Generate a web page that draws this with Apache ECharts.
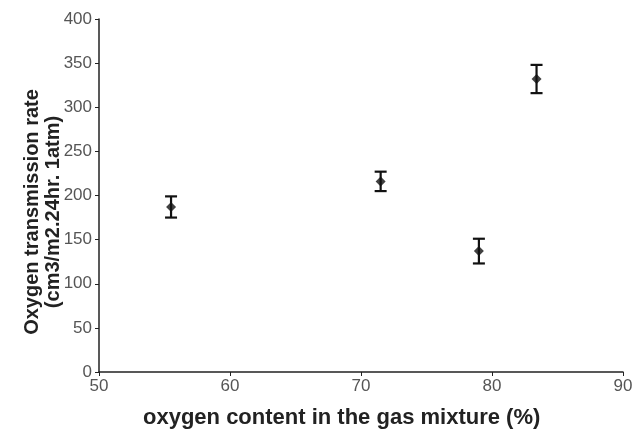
<!DOCTYPE html>
<html><head><meta charset="utf-8">
<script src="https://cdn.jsdelivr.net/npm/echarts@6/dist/echarts.min.js"></script>
<style>html,body{margin:0;padding:0;background:#fff}#c{width:638px;height:429px}</style>
</head><body><div id="c"></div>
<script>
const oxygenContent = [55.5, 71.5, 79.0, 83.4];
const transmissionRate = [187, 216, 137, 332];
const errorAmount = [12, 11, 14, 16];
const xTicks = [50, 60, 70, 80, 90];
const yTicks = [0, 50, 100, 150, 200, 250, 300, 350, 400];

const chart = echarts.init(document.getElementById('c'), null, {renderer: 'canvas'});
const pts = oxygenContent.map((x, i) => [x, transmissionRate[i]]);
const errData = oxygenContent.map((x, i) => [x, transmissionRate[i] - errorAmount[i], transmissionRate[i] + errorAmount[i]]);
const font = 'Liberation Sans, Arial, sans-serif';
chart.setOption({
  animation: false,
  grid: {left: 99, right: 15, top: 19, bottom: 57},
  xAxis: {
    type: 'value', min: xTicks[0], max: xTicks[xTicks.length - 1], interval: 10,
    axisLine: {lineStyle: {color: '#222', width: 1.5}},
    axisTick: {show: true, length: 4, lineStyle: {color: '#222'}},
    axisLabel: {color: '#555', fontSize: 17, fontFamily: font, margin: 6},
    splitLine: {show: false}
  },
  yAxis: {
    type: 'value', min: yTicks[0], max: yTicks[yTicks.length - 1], interval: 50,
    axisLine: {show: true, lineStyle: {color: '#222', width: 1.5}},
    axisTick: {show: true, length: 4, lineStyle: {color: '#222'}},
    axisLabel: {color: '#555', fontSize: 17, fontFamily: font, margin: 7},
    splitLine: {show: false}
  },
  graphic: [
    {type: 'text', left: 143, top: 407,
     style: {text: 'oxygen content in the gas mixture (%)', font: 'bold 22px ' + font, fill: '#222'}},
    {type: 'text', x: 43, y: 212, rotation: Math.PI / 2,
     style: {text: 'Oxygen transmission rate\n(cm3/m2.24hr. 1atm)', font: 'bold 20px ' + font, fill: '#222',
             align: 'center', verticalAlign: 'middle', lineHeight: 21}}
  ],
  series: [
    {
      type: 'custom',
      data: errData,
      renderItem: function (params, api) {
        const x = api.value(0);
        const lo = api.coord([x, api.value(1)]);
        const hi = api.coord([x, api.value(2)]);
        const hw = 6;
        const st = {stroke: '#111', lineWidth: 2.2};
        return {type: 'group', children: [
          {type: 'line', shape: {x1: lo[0], y1: lo[1], x2: hi[0], y2: hi[1]}, style: st},
          {type: 'line', shape: {x1: lo[0] - hw, y1: lo[1], x2: lo[0] + hw, y2: lo[1]}, style: st},
          {type: 'line', shape: {x1: hi[0] - hw, y1: hi[1], x2: hi[0] + hw, y2: hi[1]}, style: st}
        ]};
      },
      z: 2
    },
    {
      type: 'scatter', data: pts, symbol: 'diamond', symbolSize: 10,
      itemStyle: {color: '#111'}, z: 3
    }
  ]
});
</script></body></html>
